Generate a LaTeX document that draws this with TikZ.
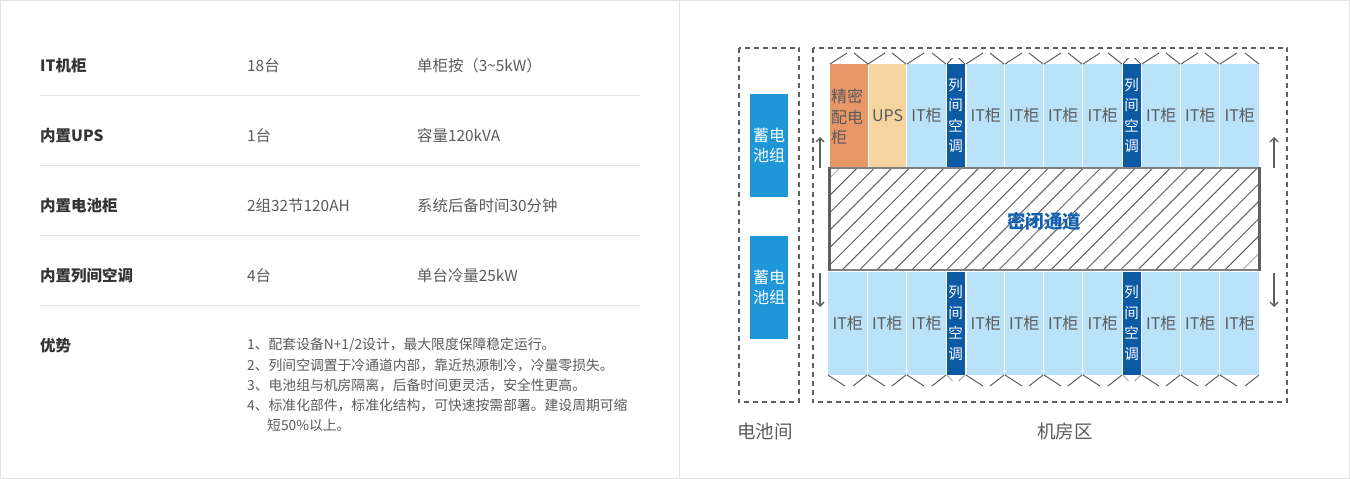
\documentclass[tikz,border=0pt]{standalone}
\usepackage{fontspec}
\setmainfont{Noto Sans CJK SC}
\definecolor{txtgray}{HTML}{5A5A5A}
\definecolor{linegray}{HTML}{606060}
\definecolor{rulegray}{HTML}{E4E4E4}
\definecolor{itblue}{HTML}{BAE3FA}
\definecolor{acblue}{HTML}{0C5AA3}
\definecolor{batblue}{HTML}{1E96D8}
\definecolor{passblue}{HTML}{1260AE}
\definecolor{pduorange}{HTML}{E99668}
\definecolor{upsyellow}{HTML}{F5D4A0}
\tikzset{
  head/.style={anchor=west,inner sep=0pt,text=black!80,font=\fontsize{15.5}{20}\selectfont\bfseries},
  cell/.style={anchor=west,inner sep=0pt,text=txtgray,font=\fontsize{15.4}{20}\selectfont},
  listline/.style={anchor=west,inner sep=0pt,text=txtgray,font=\fontsize{13.8}{20}\selectfont},
  cab/.style={anchor=north west,inner sep=0pt,text=txtgray,font=\fontsize{16}{20.7}\selectfont,align=center},
  room/.style={draw=linegray,line width=2pt,dash pattern=on 5pt off 4pt},
  door/.style={draw=linegray,line width=1pt},
  flow/.style={draw=linegray,line width=1.4pt,-{Straight Barb[length=4pt,width=8pt]}},
  battery/.style={anchor=north west,inner sep=0pt,fill=batblue,text=white,minimum width=38pt,minimum height=103pt,align=center,font=\fontsize{16}{20}\selectfont},
  zone/.style={inner sep=0pt,text=txtgray,font=\fontsize{18.5}{22}\selectfont}
}
\usetikzlibrary{arrows.meta}
\begin{document}
\begin{tikzpicture}[x=1pt,y=-1pt]
  \useasboundingbox (0,0) rectangle (1350,479);
  \draw[rulegray] (0.5,0.5) rectangle (1349.5,478.5);
  \draw[rulegray] (679.5,0.5) -- (679.5,478.5);
  % table
  \foreach \y in {95.5,165.5,235.5,305.5}
    \draw[rulegray] (40,\y) -- (640,\y);
  \foreach \y/\name/\val/\note in {
      66/IT机柜/18台/单柜按（3\textasciitilde 5kW）,
      136/内置UPS/1台/容量120kVA,
      206/内置电池柜/2组32节120AH/系统后备时间30分钟,
      276/内置列间空调/4台/单台冷量25kW}{
    \node[head] (head\y) at (40,\y) {\name};
    \node[cell] (val\y) at (247,\y) {\val};
    \node[cell] (note\y) at (417,\y) {\note};
  }
  \node[head] (headadv) at (40,346) {优势};
  \node[listline] (adva) at (247,345) {1、配套设备N+1/2设计，最大限度保障稳定运行。};
  \node[listline] (advb) at (247,365) {2、列间空调置于冷通道内部，靠近热源制冷，冷量零损失。};
  \node[listline] (advc) at (247,385) {3、电池组与机房隔离，后备时间更灵活，安全性更高。};
  \node[listline] (advd) at (247,405) {4、标准化部件，标准化结构，可快速按需部署。建设周期可缩};
  \node[listline] (adve) at (267,425) {短50\%以上。};
  % rooms
  \draw[room] (738.5,47.5) rectangle (799,402);
  \draw[room] (812.5,47.5) rectangle (1287,402);
  \node[battery] (bata) at (750,94) {蓄电\\池组};
  \node[battery] (batb) at (750,236) {蓄电\\池组};
  \node[zone] (zonea) at (765,431) {电池间};
  \node[zone] (zoneb) at (1065,431) {机房区};
  % hatched aisle
  \begin{scope}
    \clip (829,167) rectangle (1259,270);
    \foreach \k in {1,...,28}
      \draw[linegray,line width=1pt] ({840.7+17.4*\k},167) -- ({737.7+17.4*\k},270);
    \foreach \k in {0,29}
      \draw[black!30,line width=1pt] ({840.7+17.4*\k},167) -- ({737.7+17.4*\k},270);
  \end{scope}
  \draw[gray,line width=2pt] (828,167.5) -- (1260,167.5);
  \draw[gray,line width=2pt] (828,270) -- (1260,270);
  \draw[linegray,line width=3pt] (829,166.5) -- (829,271);
  \draw[linegray,line width=3pt] (1259,166.5) -- (1259,271);
  \node[inner sep=0pt,text=passblue,font=\fontsize{18.5}{22}\selectfont\bfseries] (aisle) at (1044,221) {密闭通道};
  % cabinets, top row
  \node[cab,fill=pduorange,minimum width=38pt,minimum height=103pt] (pdu) at (830,64) {};
  \node[text=txtgray,inner sep=0pt,align=left,font=\fontsize{16}{20.7}\selectfont,anchor=west] (pdutxt) at (831,117) {精密\\配电\\柜};
  \node[cab,fill=upsyellow,minimum width=37pt,minimum height=103pt] (ups) at (869,64) {UPS};
  \foreach \xa/\xb in {907/945.5,967/1004,1005/1043,1044/1082,1083/1122,1142/1180,1181/1219,1220/1259}{
    \pgfmathsetmacro\w{\xb-\xa}
    \node[cab,fill=itblue,minimum width=\w pt,minimum height=103pt] (top\xa) at (\xa,64) {IT柜};
  }
  % cabinets, bottom row
  \foreach \xa/\xb in {828/867,868/906,907/945.5,967/1004,1005/1043,1044/1082,1083/1122,1142/1180,1181/1219,1220/1259}{
    \pgfmathsetmacro\w{\xb-\xa}
    \node[cab,fill=itblue,minimum width=\w pt,minimum height=103pt] (bot\xa) at (\xa,271.5) {IT柜};
  }
  % in-row coolers
  \foreach \xa in {947,1123}{
    \node[cab,fill=acblue,text=white,minimum width=18pt,minimum height=103pt,font=\fontsize{14.5}{20.5}\selectfont] (actop\xa) at (\xa-0.5,64) {列\\间\\空\\调};
    \node[cab,fill=acblue,text=white,minimum width=18pt,minimum height=103pt,font=\fontsize{14.5}{20.5}\selectfont] (acbot\xa) at (\xa-0.5,271.5) {列\\间\\空\\调};
    \draw[door] (\xa,64) -- ++(5.5,-6) ++(6,0) -- ++(6.5,6);
    \draw[door,black!35] (\xa,375) -- ++(5.5,6) ++(6,0) -- ++(6.5,-6);
  }
  % door marks
  \foreach \xa/\xb in {830/868,868/906,907/946,966/1004,1005/1043,1044/1082,1083/1122,1142/1180,1181/1219,1220/1259}
    \draw[door] (\xa,64) -- ++(17,-11) (\xb-14,53) -- (\xb,64);
  \foreach \xa/\xb in {828/867,868/906,907/946,966/1004,1005/1043,1044/1082,1083/1122,1142/1180,1181/1219,1220/1259}
    \draw[door] (\xa,375) -- ++(17,11) (\xb-14,386) -- (\xb,375);
  % air flow
  \coordinate (upa) at (820,168);
  \coordinate (upb) at (820,137);
  \coordinate (dna) at (820,273);
  \coordinate (dnb) at (820,307);
  \coordinate (upc) at (1274,168);
  \coordinate (upd) at (1274,137);
  \coordinate (dnc) at (1274,273);
  \coordinate (dnd) at (1274,307);
  \draw[flow] (upa) -- (upb);
  \draw[flow] (dna) -- (dnb);
  \draw[flow] (upc) -- (upd);
  \draw[flow] (dnc) -- (dnd);
\end{tikzpicture}
\end{document}
